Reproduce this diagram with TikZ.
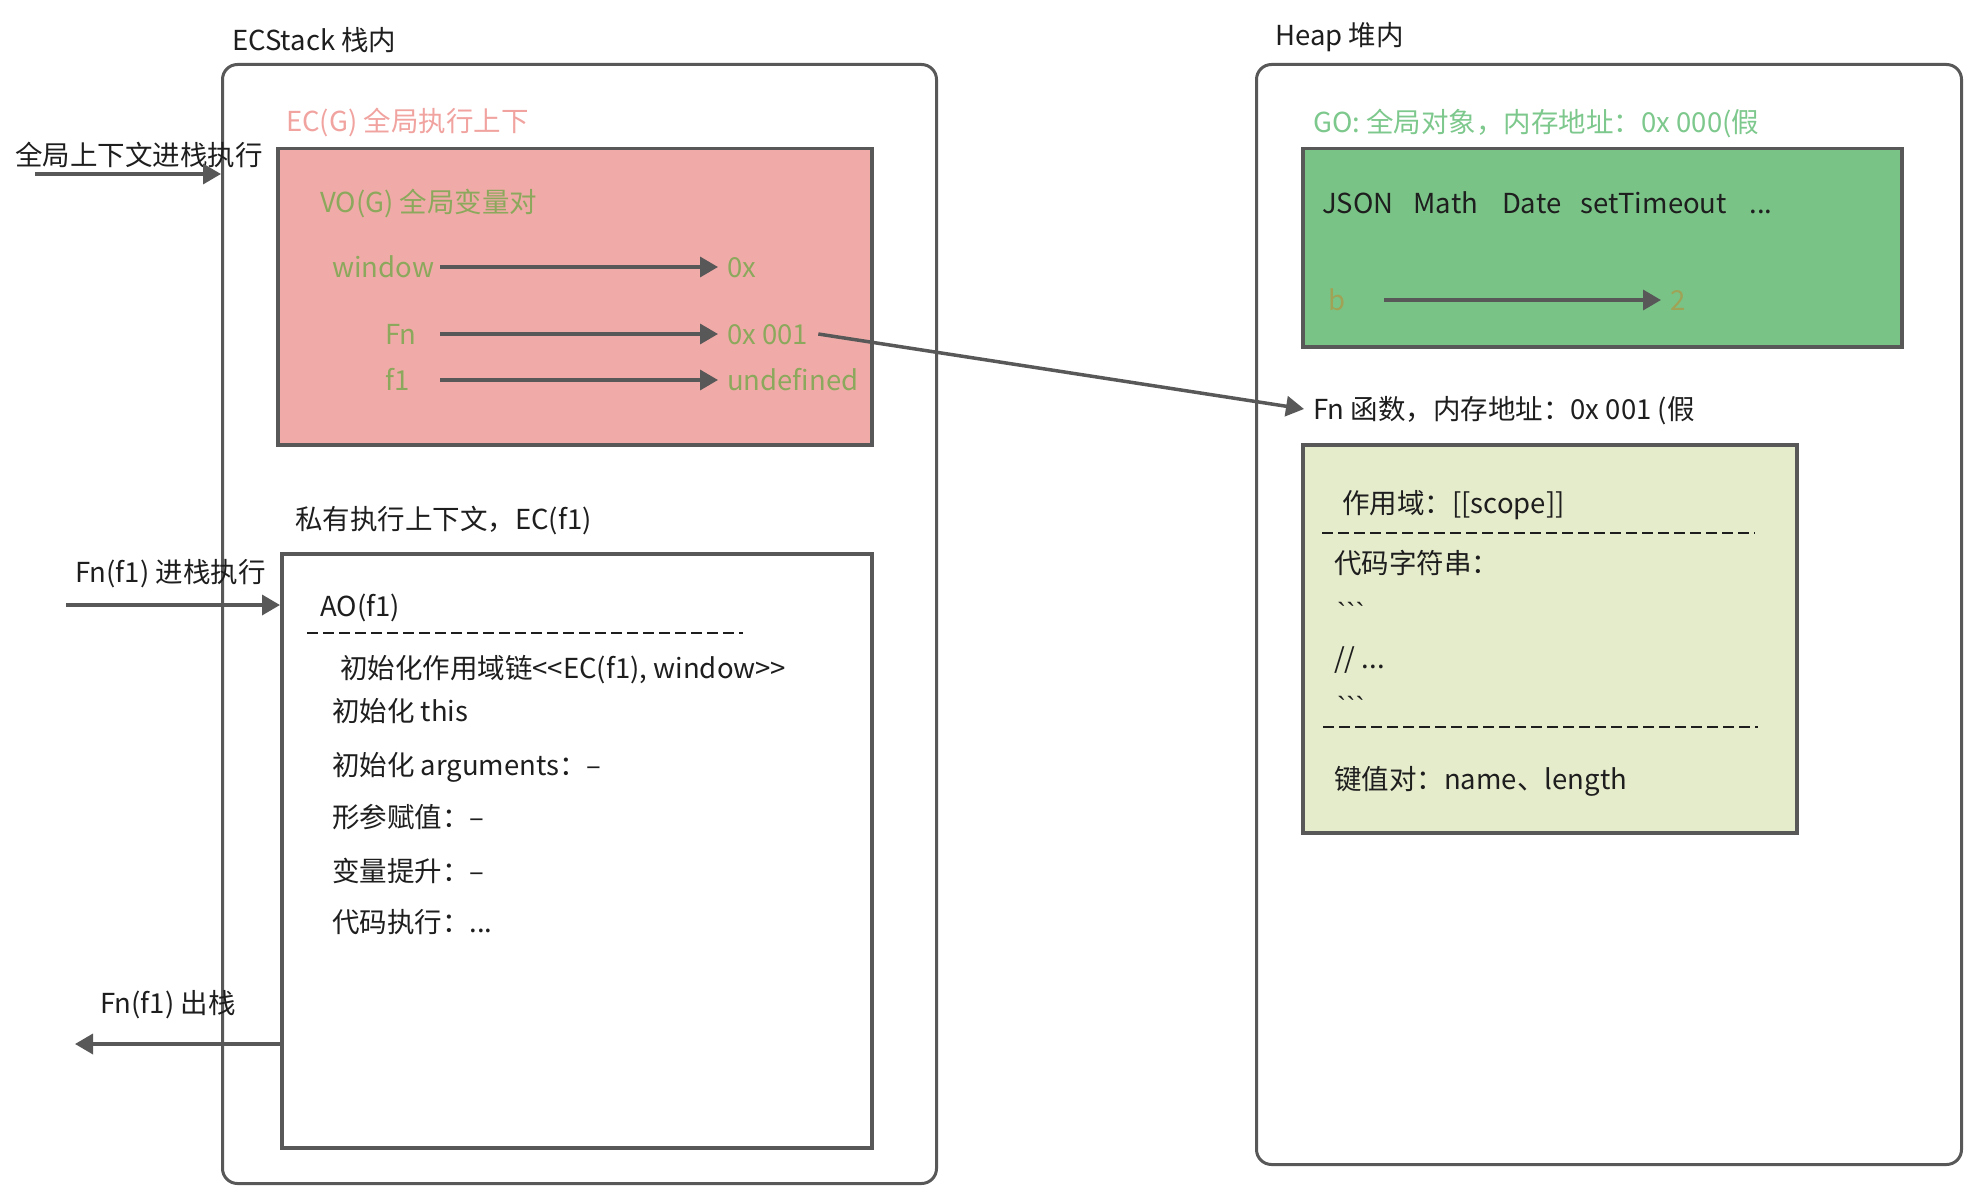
\documentclass[tikz,border=0pt]{standalone}
\usepackage{fontspec}
\setmainfont{Noto Sans CJK SC}
\newfontfamily\plainfont{Noto Sans CJK SC}
\newfontfamily\btfont{Liberation Sans}
\usetikzlibrary{arrows.meta}
\definecolor{bordc}{RGB}{88,88,88}
\definecolor{pinkfill}{RGB}{240,171,168}
\definecolor{pinktext}{RGB}{241,163,160}
\definecolor{olive}{RGB}{140,168,92}
\definecolor{olivetwo}{RGB}{160,163,85}
\definecolor{gofill}{RGB}{121,195,135}
\definecolor{gotext}{RGB}{125,200,140}
\definecolor{fnfill}{RGB}{229,236,203}
\definecolor{txt}{RGB}{30,30,30}
\begin{document}
\begin{tikzpicture}[x=1pt,y=-1pt,
  lbl/.style={anchor=west, inner sep=0pt, text height=24pt, text depth=4pt,
    font=\fontsize{27.5}{33}\selectfont, text=txt},
  outerbox/.style={draw=bordc, line width=3pt, rounded corners=15pt, anchor=north west, inner sep=0pt},
  innerbox/.style={draw=bordc, line width=3.5pt, anchor=north west, inner sep=0pt},
  arr/.style={draw=bordc, line width=3.5pt, -{Triangle[length=18pt,width=20pt]}},
  seprule/.style={draw=txt, line width=2pt, dash pattern=on 11pt off 5pt},
]
\useasboundingbox (0,0) rectangle (1966,1188);
\fill[white] (0,0) rectangle (1966,1188);

% ---------- ECStack ----------
\node[outerbox, minimum width=714pt, minimum height=1119pt] (ecstack) at (221,63) {};
\node[lbl] (ecstackL) at (232,41) {ECStack 栈内};

\node[innerbox, fill=pinkfill, minimum width=594pt, minimum height=296pt] (ecg) at (276,147) {};
\node[lbl, text=pinktext] (ecgL) at (286,122) {EC(G) 全局执行上下};
\node[lbl, text=olive] (vog) at (320,202) {VO(G) 全局变量对};
\node[lbl, text=olive] (vwin) at (332,267) {window};
\node[lbl, text=olive] (v0x) at (727,267) {0x};
\node[lbl, text=olive] (vfn) at (385,334) {Fn};
\node[lbl, text=olive] (v001) at (727,334) {0x 001};
\node[lbl, text=olive] (vf1) at (385,380) {f1};
\node[lbl, text=olive] (vundef) at (727,380) {undefined};
\coordinate (astart) at (440,0);
\draw[arr] (astart |- vwin.east) -- ([xshift=-9pt]v0x.west);
\draw[arr] (astart |- vfn.east) -- ([xshift=-9pt]v001.west);
\draw[arr] (astart |- vf1.east) -- ([xshift=-9pt]vundef.west);

\node[lbl] (in1L) at (15,155) {全局上下文进栈执行};
\coordinate (in1) at (35,174);
\draw[arr] (in1) -- (in1 -| ecstack.west);

\node[innerbox, fill=white, minimum width=590pt, minimum height=594pt] (aobox) at (280,552) {};
\node[lbl] (aoboxL) at (295,519) {私有执行上下文，EC(f1)};
\node[lbl] (in2L) at (75,572) {Fn(f1) 进栈执行};
\coordinate (in2) at (66,605);
\draw[arr] (in2) -- (in2 -| aobox.west);

\node[lbl] (ao) at (320,606) {AO(f1)};
\coordinate (aodA) at (307,633);
\coordinate (aodB) at (743,633);
\draw[seprule] (aodA) -- (aodB);
\node[lbl] (ao1) at (340,668) {{\plainfont 初始化作用域链<<EC(f1), window>>}};
\node[lbl] (ao2) at (332,711) {初始化 this};
\node[lbl] (ao3) at (332,765) {初始化 arguments：–};
\node[lbl] (ao4) at (332,817) {形参赋值：–};
\node[lbl] (ao5) at (332,871) {变量提升：–};
\node[lbl] (ao6) at (332,922) {代码执行：...};

\node[lbl] (outL) at (100,1003) {Fn(f1) 出栈};
\coordinate (out1) at (75,1044);
\draw[arr] (aobox.west |- out1) -- (out1);

% ---------- Heap ----------
\node[outerbox, minimum width=705pt, minimum height=1100pt] (heap) at (1255,63) {};
\node[lbl] (heapL) at (1275,36) {Heap 堆内};

\node[innerbox, fill=gofill, minimum width=599pt, minimum height=198pt] (go) at (1301,147) {};
\node[lbl, text=gotext] (goL) at (1313,123) {GO: 全局对象，内存地址：0x 000(假};
\node[lbl] (goitems) at (1322,203) {JSON\hspace{20pt}Math\hspace{24pt}Date\hspace{19.5pt}setTimeout\hspace{22.5pt}...};
\node[lbl, text=olivetwo] (gob) at (1328,300) {b};
\node[lbl, text=olivetwo] (go2) at (1670,300) {2};
\coordinate (bstart) at (1384,0);
\draw[arr] (bstart |- gob.east) -- ([xshift=-9pt]go2.west);

\node[lbl] (fnL) at (1313,409) {Fn 函数，内存地址：0x 001 (假};
\draw[arr] ([xshift=10pt]v001.east) -- ([xshift=-9pt]fnL.west);

\node[innerbox, fill=fnfill, minimum width=494pt, minimum height=388pt] (fnbox) at (1301,443) {};
\node[lbl] (fn1) at (1342,503) {作用域：[[scope]]};
\coordinate (fndA) at (1322,533);
\coordinate (fndB) at (1755,533);
\draw[seprule] (fndA) -- (fndB);
\node[lbl] (fn2) at (1334,563) {代码字符串：};
\node[lbl] (fn3) at (1337,612) {{\btfont ```}};
\node[lbl] (fn4) at (1334,658) {// ...};
\node[lbl] (fn5) at (1337,706) {{\btfont ```}};
\coordinate (fndC) at (1323,727);
\coordinate (fndD) at (1758,727);
\draw[seprule] (fndC) -- (fndD);
\node[lbl] (fn6) at (1334,779) {键值对：name、length};
\end{tikzpicture}
\end{document}
